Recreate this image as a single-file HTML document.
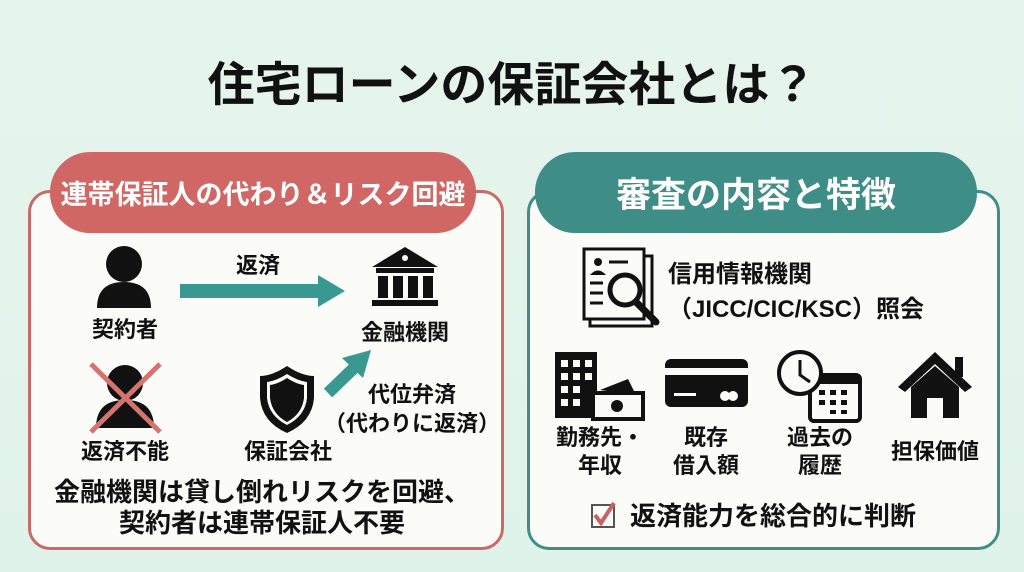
<!DOCTYPE html>
<html><head><meta charset="utf-8"><style>
*{margin:0;padding:0;box-sizing:border-box}
body{width:1024px;height:572px;overflow:hidden;background:linear-gradient(180deg,#e6f5ec,#e0f3ea);font-family:"Liberation Sans","Noto Sans CJK JP",sans-serif;font-weight:bold;color:#111;position:relative}
.a{position:absolute;white-space:nowrap}
.c{transform:translateX(-50%);text-align:center}
.panel{position:absolute;background:#fbfbf8;border-radius:22px}
.pill{position:absolute;border-radius:40px;color:#fff;display:flex;align-items:center;justify-content:center;white-space:nowrap}
.l{font-size:22px;line-height:28px}
</style></head><body>
<div class="a c" style="left:512px;top:46px;font-size:47px;letter-spacing:0px">住宅ローンの保証会社とは？</div>

<div class="panel" style="left:28px;top:190px;width:476px;height:360px;border:3px solid #c96a68"></div>
<div class="pill" style="left:50px;top:152px;width:426px;height:81px;background:#d16765;font-size:27px">連帯保証人の代わり＆リスク回避</div>

<div class="panel" style="left:527px;top:190px;width:473px;height:360px;border:3px solid #3f8f88"></div>
<div class="pill" style="left:535px;top:152px;width:442px;height:81px;background:#3e8e87;font-size:35px">審査の内容と特徴</div>

<svg class="a" style="left:0;top:0" width="1024" height="572">
<circle cx="124" cy="264" r="18" fill="#111"/>
<path d="M97 308 Q97 282 124 282 Q151 282 151 308 Z" fill="#111"/>
<rect x="180" y="284" width="140" height="14" fill="#3a9892"/>
<polygon points="318,275 345,291 318,307" fill="#3a9892"/>
<polygon points="405,247 372,267 438,267" fill="#111"/>
<circle cx="405" cy="258" r="3" fill="#fff"/>
<rect x="376" y="268" width="58" height="5" fill="#111"/>
<rect x="378" y="276" width="10" height="22" fill="#111"/><rect x="393" y="276" width="10" height="22" fill="#111"/><rect x="408" y="276" width="10" height="22" fill="#111"/><rect x="423" y="276" width="10" height="22" fill="#111"/>
<rect x="372" y="300" width="66" height="6" fill="#111"/>
<circle cx="125" cy="383" r="18" fill="#111"/>
<path d="M96 428 Q96 400 125 400 Q154 400 154 428 Z" fill="#111"/>
<line x1="91" y1="364" x2="160" y2="432" stroke="#d5736e" stroke-width="5"/>
<line x1="160" y1="364" x2="91" y2="432" stroke="#d5736e" stroke-width="5"/>
<path d="M287 366 Q272 376 260 376 L260 398 Q262 422 287 433 Q312 422 314 398 L314 376 Q302 376 287 366Z" fill="#111"/>
<path d="M287 374 Q276 381 267 382 L267 398 Q269 416 287 425 Q305 416 307 398 L307 382 Q298 381 287 374Z" fill="#fbfbf8"/>
<path d="M287 378 Q278 384 270 385 L270 398 Q272 414 287 422 Q302 414 304 398 L304 385 Q296 384 287 378Z" fill="#111"/>
<line x1="328" y1="393" x2="356" y2="366" stroke="#3a9892" stroke-width="12"/>
<polygon points="371,350 342,358 363,378" fill="#3a9892"/>

<rect x="590" y="256" width="62" height="70" fill="#fbfbf8" stroke="#111" stroke-width="3"/>
<rect x="584" y="249" width="60" height="70" fill="#fbfbf8" stroke="#111" stroke-width="3"/>
<circle cx="598" cy="262" r="4" fill="#111"/><path d="M590 275 Q598 266 606 275Z" fill="#111"/>
<line x1="609" y1="262" x2="628" y2="262" stroke="#111" stroke-width="3"/>
<line x1="590" y1="283" x2="603" y2="283" stroke="#111" stroke-width="3"/>
<line x1="590" y1="293" x2="603" y2="293" stroke="#111" stroke-width="3"/>
<line x1="590" y1="303" x2="603" y2="303" stroke="#111" stroke-width="3"/>
<circle cx="625" cy="290" r="15" fill="#fbfbf8" stroke="#111" stroke-width="5"/>
<line x1="636" y1="302" x2="656" y2="322" stroke="#111" stroke-width="7" stroke-linecap="round"/>
<rect x="555" y="352" width="42" height="66" fill="#111"/>
<g fill="#fbfbf8"><rect x="561" y="360" width="7" height="7"/><rect x="573" y="360" width="7" height="7"/><rect x="585" y="360" width="7" height="7"/><rect x="561" y="373" width="7" height="7"/><rect x="573" y="373" width="7" height="7"/><rect x="585" y="373" width="7" height="7"/><rect x="561" y="386" width="7" height="7"/><rect x="573" y="386" width="7" height="7"/><rect x="561" y="399" width="7" height="7"/><rect x="573" y="399" width="7" height="7"/></g>
<polygon points="600,390 628,379 636,395" fill="#111"/>
<rect x="593" y="393" width="50" height="26" fill="#fbfbf8" stroke="#111" stroke-width="4"/>
<circle cx="617" cy="406" r="6" fill="#111"/>
<rect x="665" y="359" width="83" height="48" rx="6" fill="#111"/>
<rect x="665" y="368" width="83" height="7" fill="#fbfbf8"/>
<rect x="674" y="393" width="22" height="3" fill="#fbfbf8"/>
<circle cx="725" cy="396" r="5" fill="#fbfbf8"/><circle cx="733" cy="396" r="5" fill="#fbfbf8"/>
<rect x="810" y="375" width="50" height="46" rx="4" fill="#fbfbf8" stroke="#111" stroke-width="4"/>
<rect x="810" y="375" width="50" height="9" fill="#111"/>
<g fill="#111"><rect x="819" y="390" width="6" height="5"/><rect x="830" y="390" width="6" height="5"/><rect x="841" y="390" width="6" height="5"/><rect x="819" y="400" width="6" height="5"/><rect x="830" y="400" width="6" height="5"/><rect x="841" y="400" width="6" height="5"/><rect x="830" y="410" width="6" height="4"/><rect x="841" y="410" width="6" height="4"/></g>
<circle cx="800" cy="373" r="21" fill="#fbfbf8" stroke="#111" stroke-width="4"/>
<polyline points="800,360 800,375 810,382" fill="none" stroke="#111" stroke-width="3"/>
<polygon points="935,352 898,387 905,392 935,364 965,392 972,387" fill="#111"/>
<rect x="955" y="357" width="8" height="20" fill="#111"/>
<path d="M911 387 L935 366 L959 387 L959 418 L943 418 L943 398 L927 398 L927 418 L911 418Z" fill="#111"/>
<rect x="592" y="505" width="22" height="22" fill="#fbfbf8" stroke="#555" stroke-width="2"/>
<polyline points="595,515 601,523 614,503" fill="none" stroke="#c9615f" stroke-width="4"/>
</svg>

<div class="a c l" style="left:125px;top:316px">契約者</div>
<div class="a c l" style="left:258px;top:252px">返済</div>
<div class="a c l" style="left:405px;top:319px">金融機関</div>
<div class="a c l" style="left:125px;top:438px">返済不能</div>
<div class="a c l" style="left:288px;top:438px">保証会社</div>
<div class="a c l" style="left:412px;top:381px">代位弁済</div>
<div class="a c l" style="left:412px;top:410px">（代わりに返済）</div>
<div class="a c" style="left:262px;top:477px;font-size:26px;line-height:31px">金融機関は貸し倒れリスクを回避、<br>契約者は連帯保証人不要</div>

<div class="a" style="left:668px;top:257px;font-size:24px;line-height:35px">信用情報機関<br>（JICC/CIC/KSC）照会</div>
<div class="a c l" style="left:600px;top:424px">勤務先・<br>年収</div>
<div class="a c l" style="left:706px;top:424px">既存<br>借入額</div>
<div class="a c l" style="left:820px;top:424px">過去の<br>履歴</div>
<div class="a c l" style="left:935px;top:438px">担保価値</div>
<div class="a" style="left:630px;top:500px;font-size:26px;line-height:32px">返済能力を総合的に判断</div>
</body></html>
